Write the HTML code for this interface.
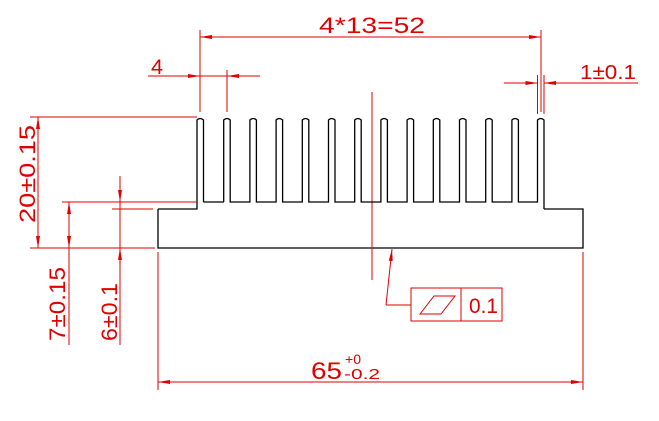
<!DOCTYPE html>
<html><head><meta charset="utf-8"><style>
html,body{margin:0;padding:0;background:#fff;}
svg{display:block;}
text{font-family:"Liberation Sans",sans-serif;fill:#e00000;}
</style></head><body>
<svg width="659" height="421" viewBox="0 0 659 421" xmlns="http://www.w3.org/2000/svg">
<defs>
<marker id="a" viewBox="0 0 12 6" refX="12" refY="3" markerWidth="12" markerHeight="6" markerUnits="userSpaceOnUse" orient="auto">
<path d="M0,1 L12,3 L0,5 Z" fill="#e00000"/>
</marker>
</defs>
<g stroke="#000" stroke-width="1.3" fill="none">
<path d="M158,209 L197,209 L197,120 Q200,117 203.5,120 L203.5,202"/>
<path d="M158,209 L158,248 L583,248 L583,209 L544,209"/>
</g>
<g stroke="#e00000" stroke-width="1" fill="none">
<line x1="372" y1="92" x2="372" y2="280"/>
<line x1="200" y1="30" x2="200" y2="112"/>
<line x1="541" y1="30" x2="541" y2="112"/>
<line x1="215" y1="37" x2="200" y2="37" marker-end="url(#a)"/>
<line x1="215" y1="37" x2="526" y2="37"/>
<line x1="526" y1="37" x2="541" y2="37" marker-end="url(#a)"/>
<line x1="227" y1="70" x2="227" y2="112"/>
<line x1="148" y1="76" x2="200" y2="76" marker-end="url(#a)"/>
<line x1="260" y1="76" x2="227" y2="76" marker-end="url(#a)"/>
<line x1="200" y1="76" x2="227" y2="76"/>
<line x1="537.5" y1="75" x2="537.5" y2="114"/>
<line x1="544" y1="75" x2="544" y2="114"/>
<line x1="504" y1="83" x2="537.5" y2="83" marker-end="url(#a)"/>
<line x1="638" y1="83" x2="544" y2="83" marker-end="url(#a)"/>
<line x1="30" y1="117" x2="197" y2="117"/>
<line x1="62" y1="202" x2="197" y2="202"/>
<line x1="30" y1="248" x2="155" y2="248"/>
<line x1="112" y1="209" x2="153" y2="209"/>
<line x1="38" y1="140" x2="38" y2="117" marker-end="url(#a)"/>
<line x1="38" y1="140" x2="38" y2="225"/>
<line x1="38" y1="225" x2="38" y2="248" marker-end="url(#a)"/>
<line x1="69" y1="225" x2="69" y2="202" marker-end="url(#a)"/>
<line x1="69" y1="225" x2="69" y2="248" marker-end="url(#a)"/>
<line x1="69" y1="248" x2="69" y2="345"/>
<line x1="120" y1="176" x2="120" y2="202" marker-end="url(#a)"/>
<line x1="120" y1="202" x2="120" y2="248"/>
<line x1="120" y1="345" x2="120" y2="248" marker-end="url(#a)"/>
<line x1="158" y1="252" x2="158" y2="390"/>
<line x1="583" y1="252" x2="583" y2="390"/>
<line x1="180" y1="382" x2="158" y2="382" marker-end="url(#a)"/>
<line x1="180" y1="382" x2="561" y2="382"/>
<line x1="561" y1="382" x2="583" y2="382" marker-end="url(#a)"/>
<rect x="411" y="288" width="91" height="33"/>
<line x1="461" y1="288" x2="461" y2="321"/>
<path d="M420,314 L434,296 L455,296 L441,314 Z"/>
<line x1="411" y1="305" x2="386" y2="305"/>
<line x1="386" y1="305" x2="392" y2="249" marker-end="url(#a)"/>
</g>
<text x="319" y="33" font-size="22" textLength="106" lengthAdjust="spacingAndGlyphs">4*13=52</text>
<text x="151" y="74" font-size="21" textLength="12" lengthAdjust="spacingAndGlyphs">4</text>
<text x="580" y="79" font-size="20" textLength="56" lengthAdjust="spacingAndGlyphs">1±0.1</text>
<g transform="translate(35,223) rotate(-90)"><text x="0" y="0" font-size="22" textLength="98" lengthAdjust="spacingAndGlyphs">20±0.15</text></g>
<g transform="translate(65,341) rotate(-90)"><text x="0" y="0" font-size="22" textLength="74" lengthAdjust="spacingAndGlyphs">7±0.15</text></g>
<g transform="translate(117,341) rotate(-90)"><text x="0" y="0" font-size="22" textLength="58" lengthAdjust="spacingAndGlyphs">6±0.1</text></g>
<text x="311" y="379" font-size="24" textLength="31" lengthAdjust="spacingAndGlyphs">65</text>
<text x="345" y="364" font-size="14" textLength="16" lengthAdjust="spacingAndGlyphs">+0</text>
<text x="344" y="379" font-size="15" textLength="36" lengthAdjust="spacingAndGlyphs">-0.2</text>
<text x="469" y="313" font-size="21" textLength="29" lengthAdjust="spacingAndGlyphs">0.1</text>
<g stroke="#000" stroke-width="1.3" fill="none">
<path d="M223.7,202 L223.7,120 Q227,117 230.2,120 L230.2,202 L249.9,202 L249.9,120 Q253,117 256.4,120 L256.4,202 L276.1,202 L276.1,120 Q279,117 282.6,120 L282.6,202 L302.3,202 L302.3,120 Q305.5,117 308.8,120 L308.8,202 L328.5,202 L328.5,120 Q331.7,117 335,120 L335,202 L354.7,202 L354.7,120 Q358,117 361.2,120 L361.2,202 L380.9,202 L380.9,120 Q384,117 387.4,120 L387.4,202 L407.1,202 L407.1,120 Q410.3,117 413.6,120 L413.6,202 L433.3,202 L433.3,120 Q436.5,117 439.8,120 L439.8,202 L459.5,202 L459.5,120 Q462.7,117 466,120 L466,202 L485.7,202 L485.7,120 Q489,117 492.2,120 L492.2,202 L511.9,202 L511.9,120 Q515,117 518.4,120 L518.4,202 L537.5,202 L537.5,120 Q540.7,117 544,120 L544,209"/>
<line x1="203.5" y1="202" x2="223.7" y2="202"/>
</g>
</svg>
</body></html>
